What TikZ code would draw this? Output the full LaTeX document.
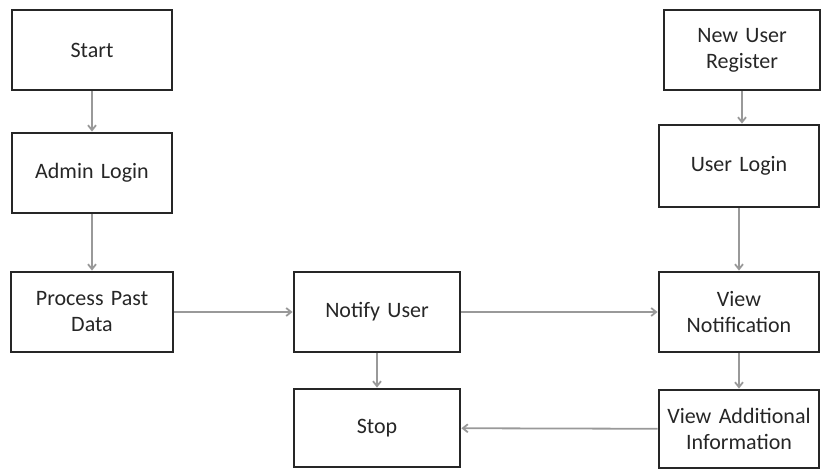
\documentclass[tikz,border=0pt]{standalone}
\usepackage{fontspec}
\setmainfont{Carlito}
\usepackage{tikz}
\usetikzlibrary{arrows.meta}

\begin{document}
\begin{tikzpicture}[
  x=0.5pt,y=-0.5pt,
  font=\fontsize{11}{13}\selectfont,
  stepbox/.style={draw=black!85,line width=1.4pt,minimum width=80pt,minimum height=40pt,
    text width=79pt,align=center,text=black!85,inner sep=0pt},
  flow/.style={-{Straight Barb[length=2.5pt,width=4pt]},draw=black!40,line width=0.9pt}
]
\useasboundingbox (0,0) rectangle (823,470);
% left column: admin side
\node[stepbox] (start) at (92,50) {Start};
\node[stepbox] (admin) at (92,173) {Admin Login};
\node[stepbox,minimum width=81pt] (process) at (92,312) {Process Past\\Data};
% middle column
\node[stepbox,minimum width=83pt] (notify) at (377,312) {Notify User};
\node[stepbox,minimum width=83pt,minimum height=39pt] (stop) at (377,428) {Stop};
% right column: user side
\node[stepbox,minimum width=78pt,text width=77pt] (register) at (742,50) {New User\\Register};
\node[stepbox,minimum height=41pt] (userlogin) at (739,166) {User Login};
\node[stepbox] (viewnote) at (739,312) {View\\Notification};
\node[stepbox,minimum height=39pt] (viewmore) at (739,429) {View Additional\\Information};

\draw[flow] (start) -- (admin);
\draw[flow] (admin) -- (process);
\draw[flow] (process) -- (notify);
\draw[flow] (notify) -- (stop);
\draw[flow] (notify) -- (viewnote);
\draw[flow] (register.south) -- (register.south |- userlogin.north);
\draw[flow] (userlogin) -- (viewnote);
\draw[flow] (viewnote) -- (viewmore);
\draw[flow] (viewmore) -- (stop);
\end{tikzpicture}
\end{document}
